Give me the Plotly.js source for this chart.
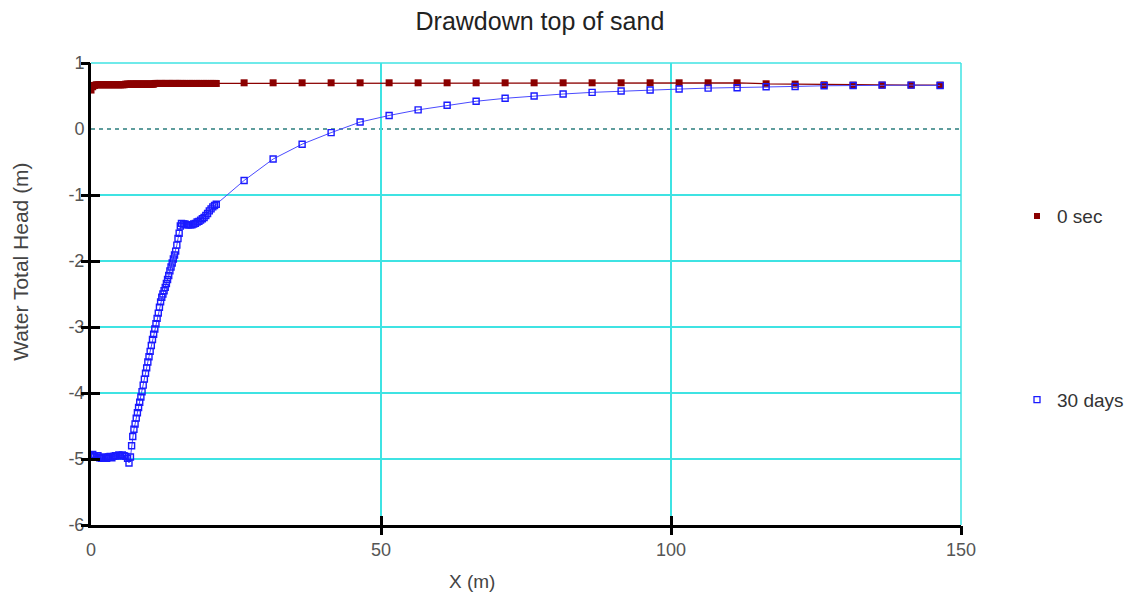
<!DOCTYPE html>
<html><head><meta charset="utf-8">
<script src="https://cdn.plot.ly/plotly-3.0.1.min.js"></script>
<style>html,body{margin:0;padding:0;background:#fff}#chart{width:1130px;height:601px}</style>
</head><body><div id="chart"></div>
<script>
// Node positions along the section (m)
const xNodes = [0,0.3,0.6,0.9,1.2,1.5,1.8,2.1,2.4,2.7,3.0,3.3,3.6,3.9,4.2,4.5,4.8,5.1,5.4,5.7,6.0,6.3,
  6.55,6.8,
  7.0,7.2,7.4,7.6,7.8,8.0,8.2,8.4,8.6,8.8,9.0,9.2,9.4,9.6,9.8,10.0,10.2,10.4,10.6,10.8,11.0,11.2,11.4,11.6,11.8,12.0,12.2,12.4,12.6,12.8,13.0,13.2,13.4,13.6,13.8,14.0,14.2,14.4,14.6,14.8,15.0,15.2,15.4,15.6,
  15.9,16.2,16.5,16.8,17.1,17.4,17.7,18.0,18.3,18.6,18.9,19.2,19.5,19.8,20.1,20.4,20.7,21.0,21.3,21.6,
  26.4,31.4,36.4,41.4,46.4,51.4,56.4,61.4,66.4,71.4,76.4,81.4,86.4,91.4,96.4,101.4,106.4,111.4,116.4,121.4,126.4,131.4,136.4,141.4,146.4];

// Water total head (m) at 0 sec
const head0sec = [0.59,0.64,0.66,0.67,0.67,0.67,0.67,0.67,0.67,0.67,0.67,0.67,0.67,0.67,0.67,0.67,0.67,0.67,0.67,0.67,0.68,0.68,
  0.68,0.68,
  0.68,0.68,0.68,0.68,0.68,0.68,0.68,0.68,0.68,0.68,0.68,0.68,0.68,0.68,0.68,0.68,0.68,0.68,0.68,0.68,0.69,0.69,0.69,0.69,0.69,0.69,0.69,0.69,0.69,0.69,0.69,0.69,0.69,0.69,0.69,0.69,0.69,0.69,0.69,0.69,0.69,0.69,0.69,0.69,
  0.69,0.69,0.69,0.69,0.69,0.69,0.69,0.69,0.69,0.69,0.69,0.69,0.69,0.69,0.69,0.69,0.69,0.69,0.69,0.69,
  0.70,0.70,0.70,0.70,0.70,0.70,0.70,0.70,0.70,0.70,0.70,0.70,0.70,0.70,0.70,0.70,0.70,0.70,0.685,0.68,0.67,0.665,0.665,0.665,0.665];

// Water total head (m) at 30 days
const head30days = [-4.95,-4.93,-4.96,-4.97,-4.95,-4.98,-4.99,-4.97,-4.98,-4.99,-4.97,-4.96,-4.98,-4.96,-4.95,-4.95,-4.94,-4.95,-4.94,-4.95,-4.96,-4.99,
  -5.06,-4.97,
  -4.80,-4.66,-4.55,-4.47,-4.38,-4.30,-4.22,-4.14,-4.06,-3.98,-3.88,-3.79,-3.70,-3.62,-3.53,-3.45,-3.37,-3.28,-3.19,-3.11,-3.03,-2.95,-2.87,-2.79,-2.70,-2.62,-2.55,-2.50,-2.45,-2.40,-2.34,-2.28,-2.22,-2.15,-2.09,-2.03,-1.97,-1.91,-1.85,-1.76,-1.66,-1.58,-1.47,-1.43,
  -1.44,-1.44,-1.45,-1.45,-1.45,-1.45,-1.44,-1.43,-1.41,-1.40,-1.38,-1.36,-1.34,-1.31,-1.28,-1.24,-1.21,-1.18,-1.16,-1.14,
  -0.78,-0.455,-0.23,-0.055,0.105,0.205,0.29,0.36,0.42,0.465,0.50,0.53,0.555,0.575,0.59,0.605,0.62,0.625,0.64,0.645,0.655,0.66,0.665,0.665,0.66];

const seriesNames = ['0 sec', '30 days'];
const xTickVals = [0, 50, 100, 150];
const xMarkVals = [50, 100, 150];
const yTickVals = [-6, -5, -4, -3, -2, -1, 0, 1];
const yMarkVals = [-6, -5, -4, -3, -2, -1, 1];
const xRange = [0, 150];
const yRange = [-6, 1];

const RED = '#8b0000', BLUE = '#1a1aff', GRID = '#3fe3e3';
const FONT = 'Liberation Sans, Arial, sans-serif';

const traces = [
  {x: xNodes, y: head0sec, mode: 'lines+markers', showlegend: false, hoverinfo: 'x+y',
   line: {color: RED, width: 1.2}, marker: {symbol: 'square', size: 7, color: RED}},
  {x: xNodes, y: head30days, mode: 'lines+markers', showlegend: false, hoverinfo: 'x+y',
   line: {color: '#4a4aff', width: 1}, marker: {symbol: 'square-open', size: 6, color: BLUE, line: {color: BLUE, width: 1.4}}},
  // legend entries (marker only)
  {x: [null], y: [null], mode: 'markers', name: seriesNames[0], legendgroup: 'a',
   marker: {symbol: 'square', size: 6, color: RED}},
  {x: [null], y: [null], mode: 'markers', name: seriesNames[1], legendgroup: 'b',
   marker: {symbol: 'square-open', size: 6, color: BLUE, line: {color: BLUE, width: 1.3}}},
  // helpers for crossing tick marks
  {x: [null], y: [null], xaxis: 'x2', yaxis: 'y2', mode: 'markers', showlegend: false, hoverinfo: 'skip'},
  {x: [null], y: [null], xaxis: 'x3', yaxis: 'y3', mode: 'markers', showlegend: false, hoverinfo: 'skip'}
];

const tickFont = {family: FONT, size: 18, color: '#555'};

const layout = {
  width: 1130, height: 601,
  margin: {l: 91, r: 169, t: 63, b: 76},
  paper_bgcolor: '#fff', plot_bgcolor: '#fff',
  font: {family: FONT},
  title: {text: 'Drawdown top of sand', font: {family: FONT, size: 25, color: '#222'},
          xref: 'paper', x: 0.516, xanchor: 'center', yref: 'container', y: 0.965, yanchor: 'middle'},
  xaxis: {range: xRange, tickvals: xTickVals, ticktext: xTickVals.map(String), ticks: '',
          showline: true, linecolor: '#000', linewidth: 3, showgrid: false, zeroline: false,
          tickfont: tickFont, ticklabelstandoff: 6, fixedrange: true},
  xaxis2: {overlaying: 'x', anchor: 'y', range: xRange, tickvals: xMarkVals, ticks: 'outside', ticklen: 9,
           tickwidth: 3, tickcolor: '#000', showticklabels: false, showgrid: true, gridcolor: GRID,
           gridwidth: 1.5, showline: false, zeroline: false, fixedrange: true},
  xaxis3: {overlaying: 'x', anchor: 'y', range: xRange, tickvals: xMarkVals, ticks: 'inside', ticklen: 9,
           tickwidth: 3, tickcolor: '#000', showticklabels: false, showgrid: false,
           showline: false, zeroline: false, fixedrange: true},
  yaxis: {range: yRange, tickvals: yTickVals, ticktext: yTickVals.map(String), ticks: '',
          showline: true, linecolor: '#000', linewidth: 3, showgrid: false, zeroline: false,
          tickfont: tickFont, ticklabelstandoff: 0, fixedrange: true},
  yaxis2: {overlaying: 'y', anchor: 'x', range: yRange, tickvals: yMarkVals, ticks: 'outside', ticklen: 9,
           tickwidth: 3, tickcolor: '#000', showticklabels: false, showgrid: true, gridcolor: GRID,
           gridwidth: 1.5, showline: false, zeroline: false, fixedrange: true},
  yaxis3: {overlaying: 'y', anchor: 'x', range: yRange, tickvals: yMarkVals, ticks: 'inside', ticklen: 9,
           tickwidth: 3, tickcolor: '#000', showticklabels: false, showgrid: false,
           showline: false, zeroline: false, fixedrange: true},
  shapes: [
    {type: 'line', xref: 'x', yref: 'y', x0: xRange[0], x1: xRange[1], y0: 0, y1: 0, layer: 'below',
     line: {color: '#2a7d7d', width: 1.5, dash: '4px,4px'}},
    // top and right frame lines (grid colour)
    {type: 'line', xref: 'paper', yref: 'paper', x0: 0, x1: 1, y0: 1, y1: 1, layer: 'below',
     line: {color: GRID, width: 1.5}},
    {type: 'line', xref: 'paper', yref: 'paper', x0: 1, x1: 1, y0: 0, y1: 1, layer: 'below',
     line: {color: GRID, width: 1.5}}
  ],
  legend: {xref: 'container', yref: 'container', x: 0.9, xanchor: 'left', y: 0.672, yanchor: 'top',
           traceorder: 'grouped', tracegroupgap: 156,
           font: {family: FONT, size: 19, color: '#333'}, bgcolor: 'rgba(0,0,0,0)'},
  annotations: [
    {text: 'X (m)', xref: 'paper', yref: 'paper', x: 0.438, y: -0.123, xanchor: 'center', yanchor: 'middle',
     showarrow: false, font: {family: FONT, size: 19, color: '#444'}},
    {text: 'Water Total Head (m)', xref: 'paper', yref: 'paper', x: -0.082, y: 0.569, xanchor: 'center', yanchor: 'middle',
     textangle: -90, showarrow: false, font: {family: FONT, size: 21, color: '#444'}}
  ],
  showlegend: true
};

Plotly.newPlot('chart', traces, layout, {displayModeBar: false, staticPlot: true});
</script>
</body></html>
